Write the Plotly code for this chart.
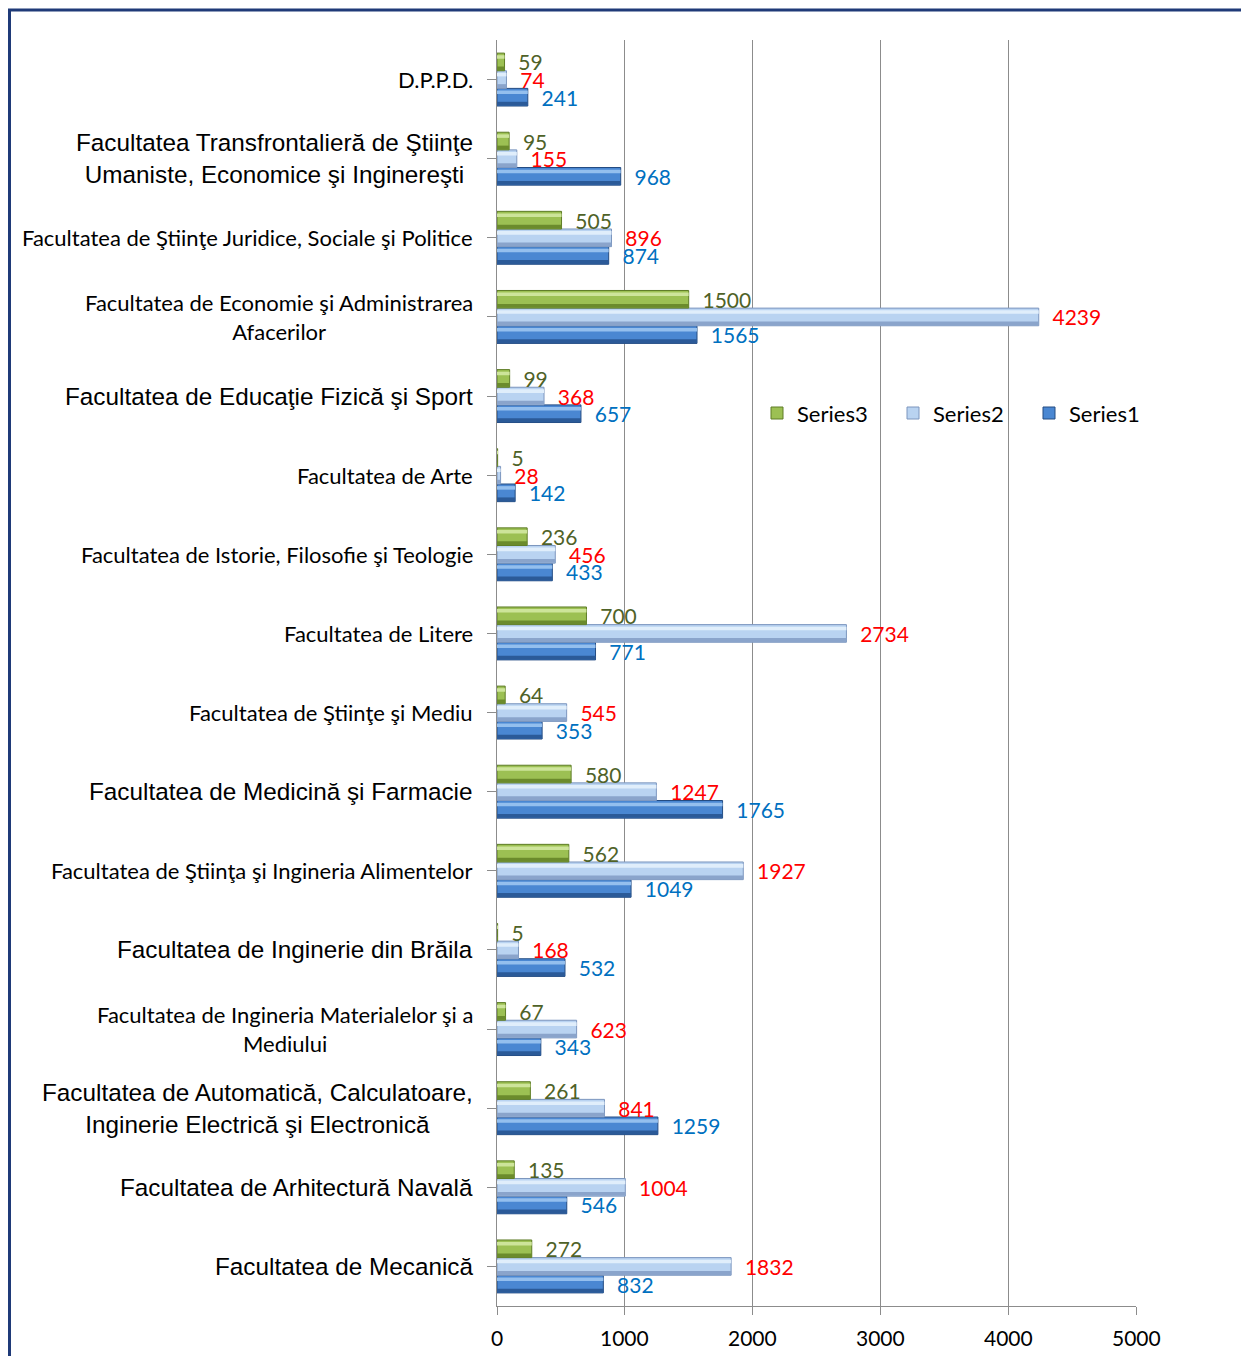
import plotly.graph_objects as go

# ---------------- data (bottom -> top) ----------------
categories = [
    "Facultatea de Mecanică",
    "Facultatea de Arhitectură Navală",
    "Facultatea de Automatică, Calculatoare,<br>Inginerie Electrică şi Electronică",
    "Facultatea de Ingineria Materialelor şi a<br>Mediului",
    "Facultatea de Inginerie din Brăila",
    "Facultatea de Ştiinţa şi Ingineria Alimentelor",
    "Facultatea de Medicină şi Farmacie",
    "Facultatea de Ştiinţe şi Mediu",
    "Facultatea de Litere",
    "Facultatea de Istorie, Filosofie şi Teologie",
    "Facultatea de Arte",
    "Facultatea de Educaţie Fizică şi Sport",
    "Facultatea de Economie şi Administrarea<br>Afacerilor",
    "Facultatea de Ştiinţe Juridice, Sociale şi Politice",
    "Facultatea Transfrontalieră de Ştiinţe<br>Umaniste, Economice şi Inginereşti",
    "D.P.P.D.",
]
# which labels are drawn in the Arial-like face (others Calibri-like)
arial_labels = [True, True, True, False, True, False, True, False,
                False, False, False, True, False, False, True, False]

series1 = [832, 546, 1259, 343, 532, 1049, 1765, 353, 771, 433, 142, 657, 1565, 874, 968, 241]
series2 = [1832, 1004, 841, 623, 168, 1927, 1247, 545, 2734, 456, 28, 368, 4239, 896, 155, 74]
series3 = [272, 135, 261, 67, 5, 562, 580, 64, 700, 236, 5, 99, 1500, 505, 95, 59]

series_names = ["Series1", "Series2", "Series3"]
x_ticks = [0, 1000, 2000, 3000, 4000, 5000]

# ---------------- styling ----------------
OFF = 8                      # page body margin
W, H = 1249 - 2 * OFF, 1364 - 2 * OFF
PL, PR, PT, PB = 497, 1136, 39.5, 1306.5      # plot area in page pixels
L, R, T, B = PL - OFF, W - (PR - OFF), PT - OFF, H - (PB - OFF)
CAL = "Lato"
ARI = "Liberation Sans, Arial"

mids = ["#4A87D2", "#B9D3F1", "#9CC053"]
darks = ["#2B5A98", "#8AA4CB", "#6B8B2C"]
lights = ["#94BFEE", "#E0EEFB", "#CDE49A"]
outlines = ["#244C82", "#7C96BE", "#5E7C26"]
label_cols = ["#0070C0", "#FF0000", "#4F6228"]

BW = 0.223                                   # bar thickness (category units)
base_offsets = [-1.5 * BW, -0.5 * BW, 0.5 * BW]

ids = list(range(len(categories)))

fig = go.Figure()
for k, (name, vals) in enumerate(zip(series_names, [series1, series2, series3])):
    off = base_offsets[k]
    # main bar (carries label and legend)
    fig.add_trace(go.Bar(
        name=name, y=ids, x=vals, orientation="h",
        width=BW, offset=off,
        marker=dict(color=mids[k], line=dict(color=outlines[k], width=1)),
        text=[str(v) for v in vals],
        texttemplate="\u00a0\u00a0%{text}",
        textposition="outside", constraintext="none", cliponaxis=False,
        textfont=dict(family=CAL, size=21, color=label_cols[k]),
        hoverinfo="x+name",
    ))
    # darker lower band (bevel shading)
    fig.add_trace(go.Bar(
        y=ids, x=vals, orientation="h", width=BW * 0.22, offset=off + BW * 0.02,
        marker=dict(color=darks[k], line=dict(width=0)),
        showlegend=False, hoverinfo="skip",
    ))
    # light upper highlight
    fig.add_trace(go.Bar(
        y=ids, x=vals, orientation="h", width=BW * 0.2, offset=off + BW * 0.68,
        marker=dict(color=lights[k], line=dict(width=0)),
        showlegend=False, hoverinfo="skip",
    ))

for i, (cat, ar) in enumerate(zip(categories, arial_labels)):
    fig.add_annotation(
        x=0, xref="x", y=i, yref="y", text=cat, showarrow=False,
        xanchor="right", yanchor="middle", xshift=-22, align="center",
        font=dict(family=ARI if ar else CAL, size=24.3 if ar else 22, color="#000000"),
    )

# x tick labels (placed below the axis ticks)
for v in x_ticks:
    fig.add_annotation(
        x=v, xref="x", y=0, yref="paper", text=str(v), showarrow=False,
        xanchor="center", yanchor="middle", yshift=-31,
        font=dict(family=CAL, size=21, color="#000000"),
    )

# page pixel -> paper coords
def px_x(p):
    return (p - OFF - L) / (W - L - R)

def px_y(p):
    return (H - B - (p - OFF)) / (H - T - B)

fig.add_shape(type="rect", xref="paper", yref="paper",
              x0=px_x(9.5), x1=px_x(1300), y0=px_y(9.5), y1=px_y(1400),
              line=dict(color="#1F3A78", width=3), fillcolor="rgba(0,0,0,0)", layer="above")

fig.update_layout(
    width=W, height=H,
    margin=dict(l=L, r=R, t=T, b=B, pad=0),
    paper_bgcolor="white", plot_bgcolor="white",
    barmode="overlay",
    font=dict(family=CAL, color="#000000"),
    showlegend=True,
    legend=dict(orientation="h", traceorder="reversed",
                x=px_x(757), y=px_y(413), xanchor="left", yanchor="middle",
                font=dict(family=CAL, size=22, color="#000000"),
                entrywidth=91, entrywidthmode="pixels",
                bgcolor="rgba(0,0,0,0)"),
    xaxis=dict(range=[0, 5000], tickvals=x_ticks,
               showgrid=True, gridcolor="#8C8C8C", gridwidth=1,
               showline=True, linecolor="#8C8C8C", linewidth=1,
               ticks="outside", ticklen=8, tickcolor="#8C8C8C",
               showticklabels=False,
               zeroline=False, fixedrange=True),
    yaxis=dict(tickmode="array", tickvals=ids, ticktext=["" for _ in ids],
               range=[-0.5, len(categories) - 0.5],
               showgrid=False, showline=True, linecolor="#8C8C8C", linewidth=1,
               ticks="outside", ticklen=9, tickcolor="#8C8C8C",
               showticklabels=False, zeroline=False, fixedrange=True),
)

fig.write_html("out.html")
